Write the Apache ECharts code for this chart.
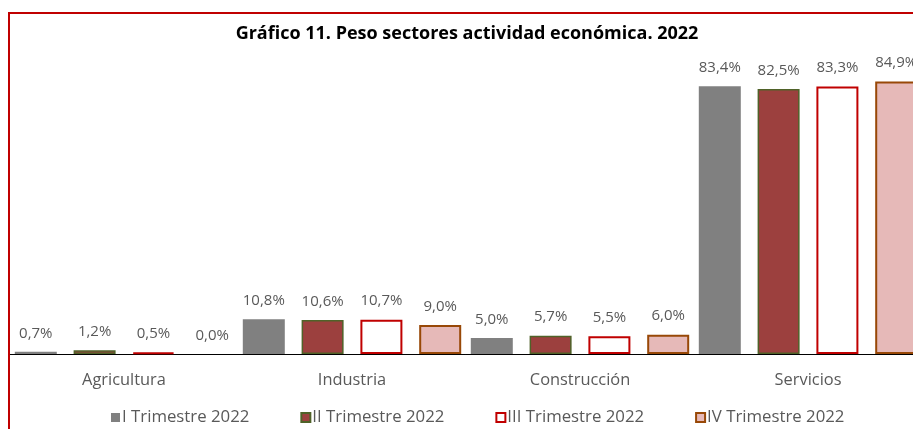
<!DOCTYPE html>
<html>
<head>
<meta charset="utf-8">
<script src="https://cdn.jsdelivr.net/npm/echarts@6/dist/echarts.min.js"></script>
<style>
  html, body { margin: 0; padding: 0; background: #fff; overflow: hidden; width: 913px; height: 429px; }
  #frame { position: absolute; left: 8px; top: 12px; border-left: 2px solid #c00000; border-top: 2px solid #c00000; }
  #chart { width: 914px; height: 420px; }
</style>
</head>
<body>
<div id="frame"><div id="chart"></div></div>
<script>
const categories = ['Agricultura', 'Industria', 'Construcción', 'Servicios'];
const seriesNames = ['I Trimestre 2022', 'II Trimestre 2022', 'III Trimestre 2022', 'IV Trimestre 2022'];
const trim1 = [0.7, 10.8, 5.0, 83.4];
const trim2 = [1.2, 10.6, 5.7, 82.5];
const trim3 = [0.5, 10.7, 5.5, 83.3];
const trim4 = [0.0, 9.0, 6.0, 84.9];

function initChart() {
    const chartDom = document.getElementById('chart');
    const myChart = echarts.init(chartDom);
    const font = '"Open Sans", sans-serif';
    const styles = [
        { color: '#808080', borderWidth: 0 },
        { color: '#9c403e', borderColor: '#4f6228', borderWidth: 1.5 },
        { color: '#ffffff', borderColor: '#c00000', borderWidth: 2 },
        { color: '#e6b9b8', borderColor: '#984807', borderWidth: 2 }
    ];
    const values = [trim1, trim2, trim3, trim4];

    const series = seriesNames.map((name, i) => ({
        name: name,
        type: 'bar',
        barWidth: 42,
        barGap: '40%',
        itemStyle: styles[i],
        label: {
            show: true, position: 'top', distance: 11,
            color: '#595959', fontSize: 15, fontFamily: font,
            formatter: p => p.value.toFixed(1).replace('.', ',') + '%'
        },
        // barras a cero sin borde
        data: values[i].map(v => v === 0 ? { value: v, itemStyle: { borderWidth: 0 } } : v)
    }));

    myChart.setOption({
        animation: false,
        title: {
            text: 'Gráfico 11. Peso sectores actividad económica. 2022',
            left: 'center', top: 6,
            textStyle: { fontSize: 18, fontWeight: 'bold', color: '#000', fontFamily: font }
        },
        legend: {
            data: seriesNames,
            left: 96, top: 390,
            icon: 'rect', itemWidth: 9, itemHeight: 9, itemGap: 51,
            textStyle: { fontSize: 16.8, color: '#595959', fontFamily: font, padding: [0, 0, 0, -3] }
        },
        grid: { left: 0, right: 2, top: 51, bottom: 80 },
        xAxis: {
            type: 'category', data: categories,
            axisLine: { lineStyle: { color: '#000', width: 1 } },
            axisTick: { show: false },
            axisLabel: { color: '#595959', fontSize: 16.4, margin: 18, fontFamily: font }
        },
        yAxis: {
            type: 'value', min: 0, max: 90, show: false,
            splitLine: { show: false }
        },
        series: series
    });
}

document.addEventListener('DOMContentLoaded', initChart);
</script>
</body>
</html>
